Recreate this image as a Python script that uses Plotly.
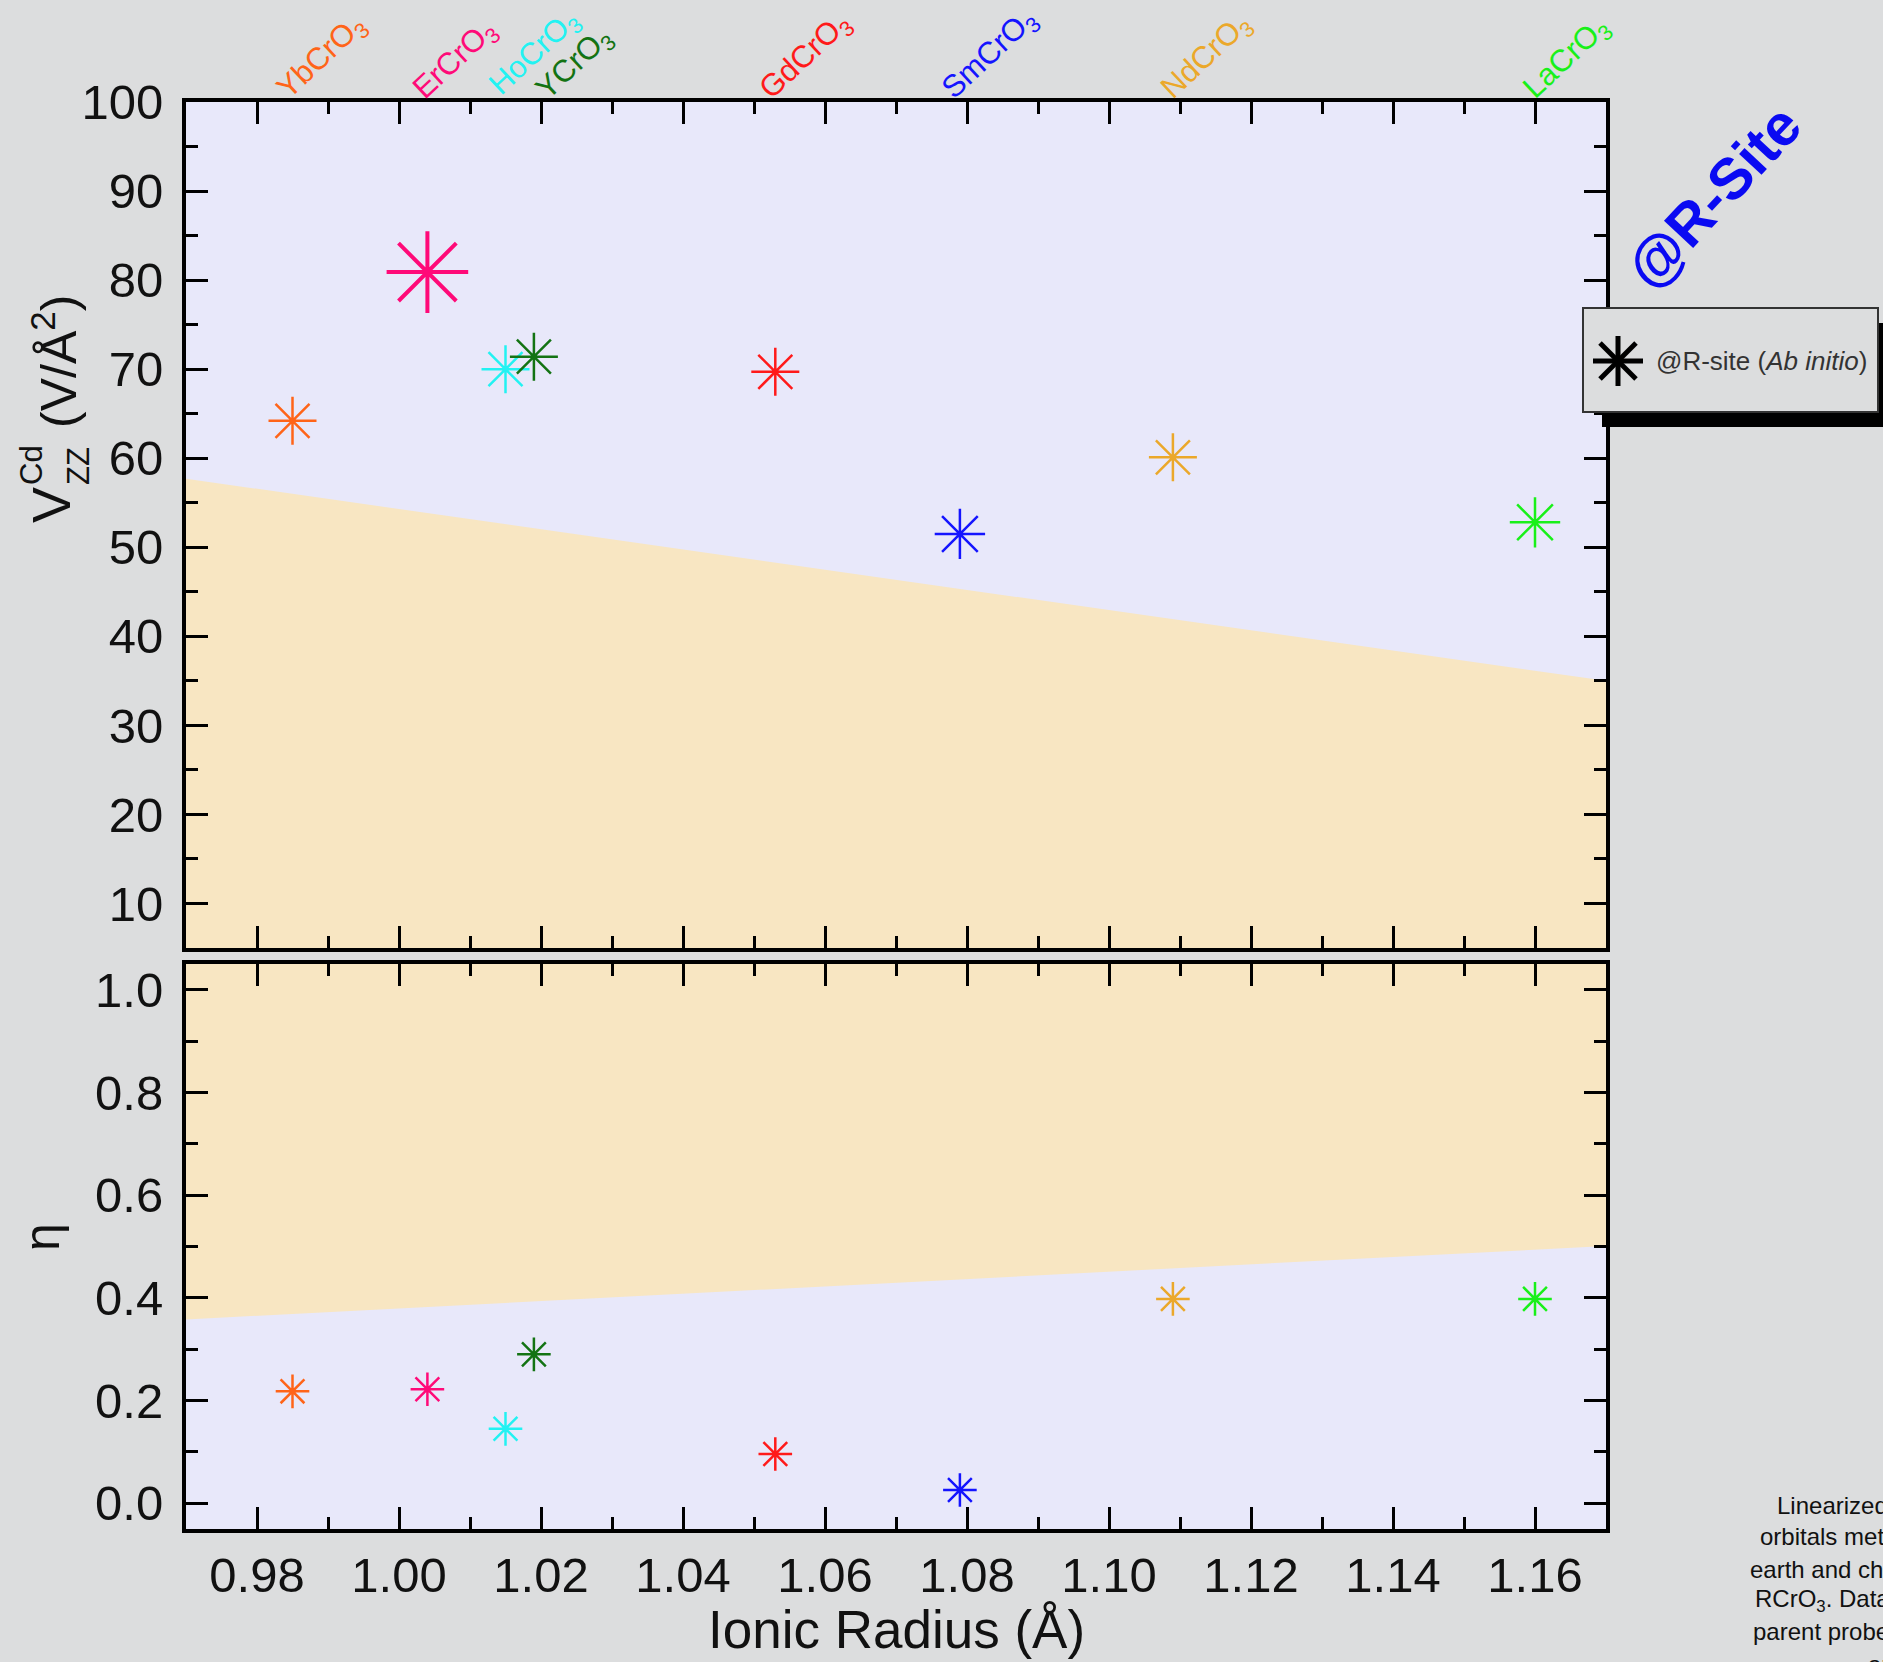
import plotly.graph_objects as go

# ---------------- data ----------------
compounds = ["YbCrO<sub>3</sub>", "ErCrO<sub>3</sub>", "HoCrO<sub>3</sub>", "YCrO<sub>3</sub>",
             "GdCrO<sub>3</sub>", "SmCrO<sub>3</sub>", "NdCrO<sub>3</sub>", "LaCrO<sub>3</sub>"]
ionic_radius = [0.985, 1.004, 1.015, 1.019, 1.053, 1.079, 1.109, 1.160]
vzz = [64.2, 80.9, 70.0, 71.4, 69.7, 51.5, 60.1, 52.8]
eta = [0.218, 0.222, 0.145, 0.290, 0.096, 0.026, 0.398, 0.398]

# experimental bands (edges at the axis limits)
band_x = [0.97, 1.17]
vzz_band_edge = [57.7, 35.0]      # orange below this line
eta_band_edge = [0.358, 0.501]    # orange above this line

x_range = [0.97, 1.17]
vzz_range = [5, 100]
eta_range = [-0.05, 1.05]

# ---------------- style ----------------
colors = ["#FF6418", "#FF0A78", "#22F2F2", "#137313", "#FF1A1A", "#1414FF", "#EBA82A", "#19F019"]
vzz_sizes = [40, 68, 40, 40, 40, 42, 40, 42]
vzz_lw = [2.5, 4, 2.5, 2.5, 2.5, 2.5, 2.5, 2.5]
eta_sizes = [28] * 8
label_xshift = [-26, -24, -26, -8, -26, -28, -22, -22]
label_yshift = [-10, -10, -6, -10, -10, -10, -10, -10]

W, H = 1883, 1662
L, R, T, B = 186, 1606, 102, 1529
BG = "#DCDDDE"
LAV = "#E8E8FA"
ORG = "#F8E6C2"
FONT = "Liberation Sans, Arial, sans-serif"


def pxx(p):
    return (p - L) / (R - L)


def pxy(p):
    return (B - p) / (B - T)


top_dom = [pxy(948), 1.0]
bot_dom = [0.0, pxy(964)]

fig = go.Figure()

# bands
fig.add_trace(go.Scatter(
    x=[band_x[0], band_x[1], band_x[1], band_x[0]],
    y=[vzz_band_edge[0], vzz_band_edge[1], vzz_range[0], vzz_range[0]],
    fill="toself", fillcolor=ORG, line=dict(width=0), mode="lines",
    hoverinfo="skip", showlegend=False, xaxis="x", yaxis="y"))
fig.add_trace(go.Scatter(
    x=[band_x[0], band_x[1], band_x[1], band_x[0]],
    y=[eta_band_edge[0], eta_band_edge[1], eta_range[1], eta_range[1]],
    fill="toself", fillcolor=ORG, line=dict(width=0), mode="lines",
    hoverinfo="skip", showlegend=False, xaxis="x2", yaxis="y2"))

# markers
for i in range(len(compounds)):
    fig.add_trace(go.Scatter(
        x=[ionic_radius[i]], y=[vzz[i]], mode="markers",
        marker=dict(symbol="asterisk-open", size=vzz_sizes[i], color=colors[i],
                    line=dict(color=colors[i], width=vzz_lw[i])),
        showlegend=False, xaxis="x", yaxis="y", cliponaxis=False))
    fig.add_trace(go.Scatter(
        x=[ionic_radius[i]], y=[eta[i]], mode="markers",
        marker=dict(symbol="asterisk-open", size=eta_sizes[i], color=colors[i],
                    line=dict(color=colors[i], width=2.5)),
        showlegend=False, xaxis="x2", yaxis="y2", cliponaxis=False))

axis_common = dict(showline=True, linewidth=4, linecolor="black", mirror="ticks",
                   ticks="inside", ticklen=22, tickwidth=3, tickcolor="black",
                   showgrid=False, zeroline=False,
                   tickfont=dict(family=FONT, size=49, color="#111"))

fig.update_layout(
    width=W, height=H, autosize=False,
    margin=dict(l=L, r=W - R, t=T, b=H - B, pad=0),
    paper_bgcolor=BG, plot_bgcolor=LAV,
    showlegend=False,
    xaxis=dict(domain=[0, 1], range=x_range, anchor="y", tick0=0.98, dtick=0.02,
               showticklabels=False,
               minor=dict(dtick=0.01, ticks="inside", ticklen=12, tickwidth=3, tickcolor="black"),
               **axis_common),
    yaxis=dict(domain=top_dom, range=vzz_range, anchor="x", tick0=10, dtick=10,
               ticklabelstandoff=9,
               minor=dict(dtick=5, ticks="inside", ticklen=12, tickwidth=3, tickcolor="black"),
               **axis_common),
    xaxis2=dict(domain=[0, 1], range=x_range, anchor="y2", tick0=0.98, dtick=0.02,
                tickformat=".2f", ticklabelstandoff=0,
                minor=dict(dtick=0.01, ticks="inside", ticklen=12, tickwidth=3, tickcolor="black"),
                **axis_common),
    yaxis2=dict(domain=bot_dom, range=eta_range, anchor="x2", tick0=0, dtick=0.2,
                tickformat=".1f", ticklabelstandoff=9,
                minor=dict(dtick=0.1, ticks="inside", ticklen=12, tickwidth=3, tickcolor="black"),
                **axis_common),
)

ann = []
# compound labels above top axis
for i in range(len(compounds)):
    ann.append(dict(x=ionic_radius[i], xref="x", y=1, yref="paper",
                    text=compounds[i], showarrow=False, textangle=-43,
                    xanchor="left", yanchor="bottom",
                    xshift=label_xshift[i], yshift=label_yshift[i],
                    font=dict(family=FONT, size=31, color=colors[i])))

# @R-Site
ann.append(dict(x=pxx(1713), y=pxy(196), xref="paper", yref="paper",
                text="<b>@R-Site</b>", showarrow=False, textangle=-47,
                xanchor="center", yanchor="middle",
                font=dict(family=FONT, size=58, color="#0A0AF2")))

# y-axis titles
ann.append(dict(x=pxx(51), y=pxy(505), xref="paper", yref="paper", text="V",
                showarrow=False, textangle=-90, xanchor="center", yanchor="middle",
                font=dict(family=FONT, size=54, color="#111")))
ann.append(dict(x=pxx(31), y=pxy(465), xref="paper", yref="paper", text="Cd",
                showarrow=False, textangle=-90, xanchor="center", yanchor="middle",
                font=dict(family=FONT, size=31, color="#111")))
ann.append(dict(x=pxx(78), y=pxy(466), xref="paper", yref="paper", text="ZZ",
                showarrow=False, textangle=-90, xanchor="center", yanchor="middle",
                font=dict(family=FONT, size=31, color="#111")))
ann.append(dict(x=pxx(55), y=pxy(362), xref="paper", yref="paper",
                text="(V/Å<sup>2</sup>)",
                showarrow=False, textangle=-90, xanchor="center", yanchor="middle",
                font=dict(family=FONT, size=50, color="#111")))
ann.append(dict(x=pxx(42), y=pxy(1237), xref="paper", yref="paper", text="η",
                showarrow=False, textangle=-90, xanchor="center", yanchor="middle",
                font=dict(family=FONT, size=50, color="#111")))
# x title
ann.append(dict(x=0.5, y=pxy(1629), xref="paper", yref="paper", text="Ionic Radius (Å)",
                showarrow=False, xanchor="center", yanchor="middle",
                font=dict(family=FONT, size=53, color="#111")))

# legend text
ann.append(dict(x=pxx(1654), y=pxy(361), xref="paper", yref="paper",
                text="@R-site (<i>Ab initio</i>)", showarrow=False,
                xanchor="left", yanchor="middle",
                font=dict(family=FONT, size=26, color="#333")))

# caption fragment at bottom right (cut by page edge)
caption = [("Linearized augmented plane wave", 1775, 1505),
           ("orbitals method", 1758, 1537),
           ("earth and chromium", 1748, 1569),
           ("RCrO<sub>3</sub>. Data", 1753, 1600),
           ("parent probe", 1751, 1631),
           ("and", 1866, 1664)]
for txt, xp, yp in caption:
    ann.append(dict(x=pxx(xp), y=pxy(yp), xref="paper", yref="paper", text=txt,
                    showarrow=False, xanchor="left", yanchor="middle",
                    font=dict(family=FONT, size=24, color="#111")))

fig.update_layout(annotations=ann)

# legend box with shadow and glyph
shapes = [
    dict(type="rect", xref="paper", yref="paper", x0=pxx(1602), x1=pxx(1900),
         y0=pxy(427), y1=pxy(323), fillcolor="black", line=dict(width=0), layer="above"),
    dict(type="rect", xref="paper", yref="paper", x0=pxx(1583), x1=pxx(1878),
         y0=pxy(412), y1=pxy(308), fillcolor=BG, line=dict(color="#333", width=2), layer="above"),
]
cx, cy, r = 1618, 361, 25
d = r * 0.72
for (x0, y0, x1, y1) in [(cx - r, cy, cx + r, cy), (cx, cy - r, cx, cy + r),
                         (cx - d, cy - d, cx + d, cy + d), (cx - d, cy + d, cx + d, cy - d)]:
    shapes.append(dict(type="line", xref="paper", yref="paper",
                       x0=pxx(x0), y0=pxy(y0), x1=pxx(x1), y1=pxy(y1),
                       line=dict(color="black", width=5), layer="above"))
fig.update_layout(shapes=shapes)

fig.write_html("out.html")
